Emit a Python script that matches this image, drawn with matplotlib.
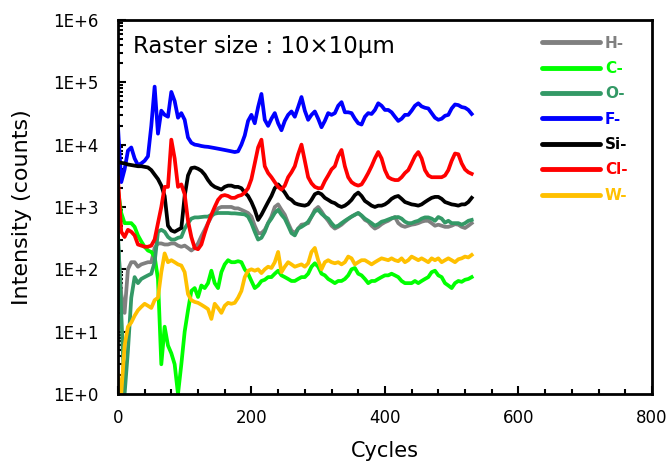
import numpy as np
import matplotlib
matplotlib.use("Agg")
import matplotlib.pyplot as plt
from matplotlib.ticker import FixedLocator, LogLocator, MultipleLocator, FuncFormatter, NullFormatter

# cycle numbers (every 5 cycles)
cycles = list(range(0, 535, 5))

h_minus = [300, 40, 20, 100, 130, 130, 110, 120, 125, 130,
           130, 220, 260, 260, 250, 250, 260, 260, 240, 230,
           240, 220, 200, 220, 260, 340, 430, 550, 700, 800,
           950, 1000, 1000, 1000, 1000, 950, 950, 900, 850, 800,
           700, 500, 380, 380, 430, 550, 700, 1000, 1100, 900,
           750, 550, 420, 380, 450, 520, 530, 550, 700, 900,
           1000, 850, 700, 600, 500, 450, 480, 520, 580, 640,
           700, 750, 800, 720, 620, 580, 500, 450, 480, 530,
           570, 600, 650, 690, 550, 500, 480, 500, 520, 530,
           550, 580, 600, 600, 550, 500, 520, 500, 480, 480,
           500, 530, 520, 480, 460, 500, 550]

c_minus = [1900, 800, 550, 550, 550, 480, 350, 280, 230, 200,
           190, 160, 70, 3, 12, 6, 4.5, 3, 1.0, 3,
           10, 22, 45, 50, 36, 55, 50, 60, 95, 60,
           50, 90, 120, 140, 130, 130, 135, 130, 100, 85,
           65, 50, 55, 65, 68, 75, 75, 85, 95, 80,
           75, 70, 65, 65, 70, 75, 75, 85, 110, 125,
           110, 85, 80, 70, 65, 60, 65, 65, 70, 80,
           100, 105, 85, 80, 70, 60, 65, 65, 70, 75,
           80, 80, 85, 80, 75, 65, 60, 60, 60, 65,
           60, 65, 70, 75, 90, 95, 80, 75, 60, 55,
           50, 60, 65, 63, 68, 70, 75]

o_minus = [400, 20, 1.0, 5, 35, 75, 60, 70, 75, 80,
           85, 130, 400, 430, 400, 330, 300, 300, 320, 330,
           450, 550, 650, 680, 680, 690, 700, 700, 750, 780,
           800, 800, 800, 800, 790, 790, 780, 770, 760, 700,
           550, 400, 300, 320, 400, 550, 650, 800, 900, 750,
           650, 500, 380, 350, 450, 480, 520, 580, 700, 850,
           900, 780, 700, 650, 550, 480, 500, 550, 600, 650,
           700, 750, 800, 730, 650, 600, 550, 500, 530, 580,
           600, 630, 660, 680, 690, 650, 580, 550, 550, 580,
           600, 650, 680, 680, 650, 600, 690, 650, 560, 600,
           550, 550, 550, 520, 550, 600, 620]

f_minus = [20000, 2500, 4000, 8000, 9000, 6000, 4700, 5000, 5500, 6500,
           20000, 85000, 15000, 35000, 30000, 28000, 70000, 50000, 27000, 32000,
           25000, 13000, 10700, 10000, 9800, 9500, 9300, 9200, 9000, 8800,
           8600, 8400, 8200, 8000, 7800, 7600, 7800, 10000, 14000, 24000,
           30000, 22000, 40000, 65000, 25000, 20000, 26000, 32000, 22000, 17000,
           24000, 30000, 34000, 28000, 40000, 58000, 35000, 25000, 30000, 34000,
           26000, 19000, 24000, 32000, 30000, 32000, 42000, 48000, 33000, 33000,
           32000, 26000, 22000, 21000, 28000, 32000, 31000, 36000, 46000, 42000,
           36000, 36000, 33000, 28000, 24000, 26000, 30000, 30000, 35000, 42000,
           46000, 41000, 39000, 38000, 32000, 27000, 25000, 26000, 29000, 30000,
           38000, 44000, 43000, 40000, 39000, 36000, 31000]

si_minus = [5300, 5100, 5000, 4800, 4700, 4600, 4500, 4500, 4400, 4300,
            3900, 3300, 2800, 2200, 1500, 500, 420, 400, 430, 460,
            1500, 3200, 4200, 4300, 4100, 3800, 3300, 2700, 2300, 2100,
            2000, 1900, 2100, 2200, 2200, 2100, 2100, 2000, 1700, 1500,
            1200, 900, 620, 750, 950, 1200, 1500, 2000, 2300, 2000,
            1700, 1400, 1300, 1150, 1100, 1070, 1050, 1100, 1300, 1600,
            1700, 1600, 1400, 1300, 1200, 1150, 1050, 1000, 1050, 1150,
            1300, 1550, 1700, 1500, 1250, 1150, 1050, 1000, 1050, 1050,
            1100, 1200, 1350, 1450, 1500, 1350, 1200, 1150, 1100, 1080,
            1050, 1100, 1200, 1300, 1400, 1450, 1450, 1350, 1200, 1150,
            1100, 1080, 1050, 1100, 1100, 1200, 1400]

cl_minus = [3000, 400, 330, 430, 400, 350, 250, 240, 230, 230,
            240, 300, 550, 1000, 2100, 2100, 12000, 6000, 2100, 2300,
            1600, 600, 330, 220, 210, 250, 380, 550, 750, 1000,
            1300, 1500, 1550, 1500, 1400, 1400, 1500, 1550, 1700, 2000,
            2800, 5000, 9000, 12000, 4500, 3500, 3000, 2500, 2100, 1900,
            2200, 3000, 3600, 4500, 7000, 10000, 5500, 3000, 2400, 2100,
            2000, 2000, 2600, 3200, 4000, 4500, 6500, 8200, 4500, 3000,
            2500, 2300, 2200, 2300, 2800, 3500, 4500, 6000, 7600, 6000,
            3900, 3000, 2800, 2700, 2700, 3000, 3500, 3900, 5000, 6500,
            7600, 6000, 3900, 3200, 3000, 3000, 3000, 3000, 3200, 3900,
            5500, 7200, 7000, 5000, 4000, 3600, 3400]

w_minus = [2.0, 1.0, 6, 12, 14, 18, 22, 25, 28, 26,
           24, 32, 35, 90, 180, 130, 140, 130, 120, 115,
           90, 40, 32, 30, 29, 27, 25, 23, 16, 28,
           24, 20, 26, 29, 28, 29, 35, 45, 75, 95,
           100, 95, 100, 87, 100, 110, 105, 130, 190, 90,
           110, 130, 120, 110, 115, 120, 110, 125, 190, 220,
           140, 100, 130, 140, 130, 125, 130, 120, 130, 160,
           150, 120, 130, 140, 140, 130, 120, 130, 140, 150,
           145, 140, 150, 140, 135, 150, 130, 140, 160, 150,
           140, 150, 140, 130, 150, 140, 150, 130, 140, 150,
           140, 130, 145, 150, 160, 155, 170]

series_names = ["H-", "C-", "O-", "F-", "Si-", "Cl-", "W-"]
series_data = [h_minus, c_minus, o_minus, f_minus, si_minus, cl_minus, w_minus]
series_colors = ["#808080", "#00FF00", "#339966", "#0000FF", "#000000", "#FF0000", "#FFC000"]

fig = plt.figure(figsize=(6.7, 4.63), dpi=100)
ax = fig.add_axes([0.176, 0.149, 0.797, 0.808])

for name, vals, col in zip(series_names, series_data, series_colors):
    ax.plot(cycles, vals, color=col, lw=2.7, label=name, solid_joinstyle="round")

ax.set_yscale("log")
ax.set_xlim(0, 800)
ax.set_ylim(1, 1e6)

ax.xaxis.set_major_locator(MultipleLocator(200))
ax.xaxis.set_minor_locator(MultipleLocator(40))
ax.yaxis.set_major_locator(FixedLocator([1, 10, 100, 1e3, 1e4, 1e5, 1e6]))
ax.yaxis.set_minor_locator(LogLocator(base=10, subs=np.arange(2, 10)))
ax.yaxis.set_minor_formatter(NullFormatter())
ax.yaxis.set_major_formatter(FuncFormatter(lambda v, p: f"1E+{int(round(np.log10(v)))}"))

ax.tick_params(which="both", direction="in", width=1.5, labelsize=12)
ax.tick_params(axis="y", pad=14)
ax.tick_params(axis="x", pad=11)
ax.tick_params(which="major", length=6)
ax.tick_params(which="minor", length=3.5)
for sp in ax.spines.values():
    sp.set_linewidth(2)

ax.set_xlabel("Cycles", fontsize=15, labelpad=10)
ax.set_ylabel("Intensity (counts)", fontsize=16, labelpad=15)

ax.text(0.028, 0.93, "Raster size : 10×10µm", transform=ax.transAxes,
        fontsize=16.5, va="center", ha="left")

leg = ax.legend(loc="upper right", bbox_to_anchor=(0.98, 0.995), frameon=False,
                handlelength=3.8, handletextpad=0.3, labelspacing=0.68,
                prop={"size": 11, "weight": "bold"})
for txt, col in zip(leg.get_texts(), series_colors):
    txt.set_color(col)
for line in leg.get_lines():
    line.set_linewidth(3.5)
    line.set_solid_capstyle("round")

fig.savefig("out.png", dpi=100)
